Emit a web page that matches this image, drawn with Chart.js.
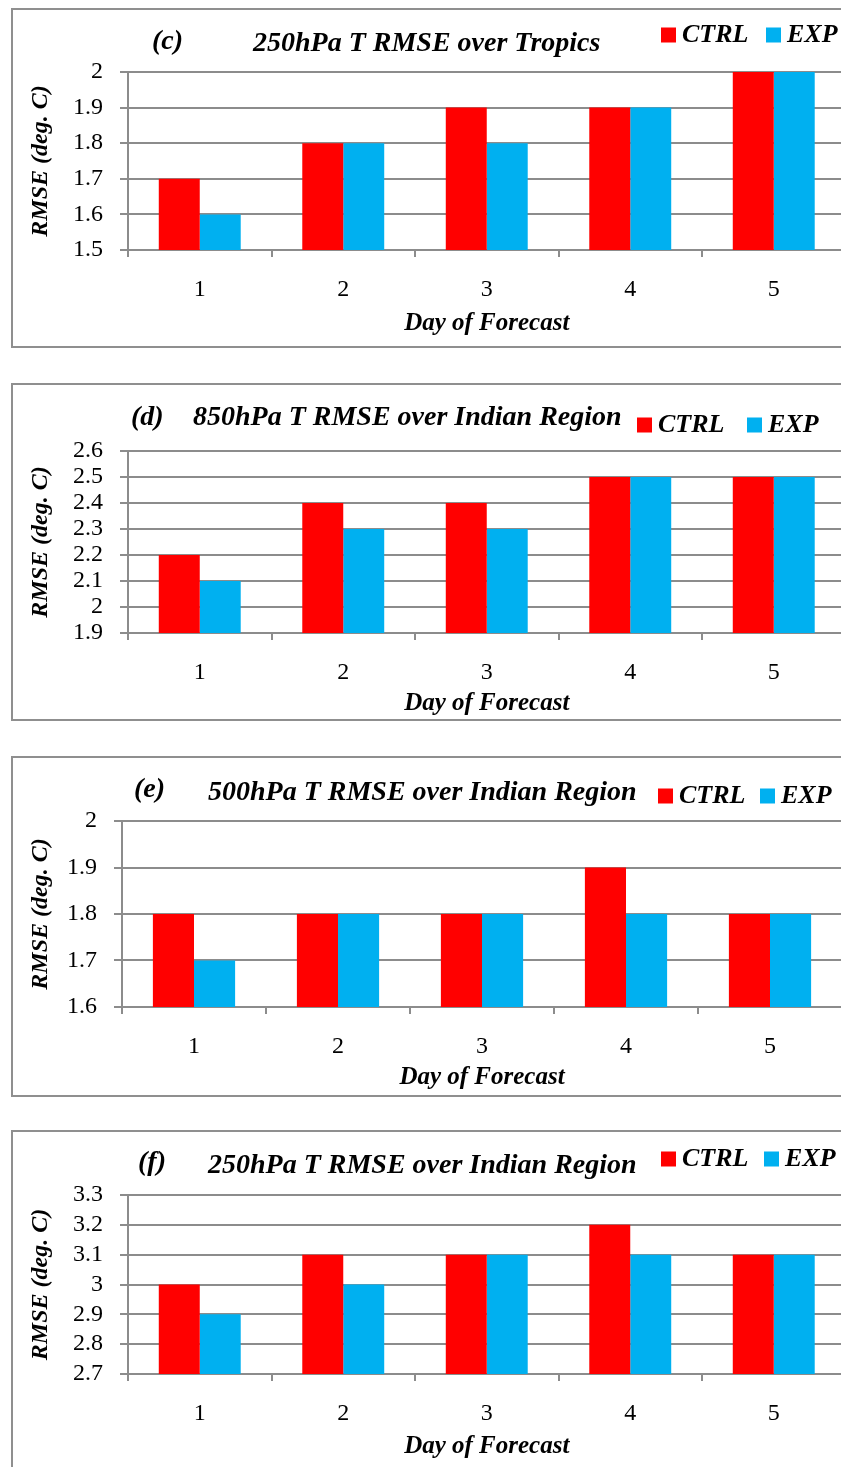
<!DOCTYPE html>
<html>
<head>
<meta charset="utf-8">
<title>Temperature RMSE by forecast day</title>
<script src="https://cdn.jsdelivr.net/npm/chart.js@4.4.1/dist/chart.umd.min.js"></script>
<style>
  html, body { margin: 0; padding: 0; background: #fff; width: 841px; height: 1467px; overflow: hidden; position: relative; }
  .box { position: absolute; left: 11px; width: 900px; border: 2px solid #8f8f8f; box-sizing: border-box; }
  canvas.panel { position: absolute; left: 0; }
</style>
</head>
<body>
<script>
// Forecast days (x categories) and the two experiments
const days = ['1', '2', '3', '4', '5'];
const seriesNames = ['CTRL', 'EXP'];
const seriesColors = ['#FF0000', '#00B0F0'];

// (c) 250 hPa temperature RMSE over the Tropics
const ctrlTropics250 = [1.7, 1.8, 1.9, 1.9, 2.0];
const expTropics250  = [1.6, 1.8, 1.8, 1.9, 2.0];
const axisTropics250 = [1.5, 2.0];

// (d) 850 hPa temperature RMSE over the Indian region
const ctrlIndian850 = [2.2, 2.4, 2.4, 2.5, 2.5];
const expIndian850  = [2.1, 2.3, 2.3, 2.5, 2.5];
const axisIndian850 = [1.9, 2.6];

// (e) 500 hPa temperature RMSE over the Indian region
const ctrlIndian500 = [1.8, 1.8, 1.8, 1.9, 1.8];
const expIndian500  = [1.7, 1.8, 1.8, 1.8, 1.8];
const axisIndian500 = [1.6, 2.0];

// (f) 250 hPa temperature RMSE over the Indian region
const ctrlIndian250 = [3.0, 3.1, 3.1, 3.2, 3.1];
const expIndian250  = [2.9, 3.0, 3.1, 3.1, 3.1];
const axisIndian250 = [2.7, 3.3];

const tickStep = 0.1;
const xAxisTitle = 'Day of Forecast';
const yAxisTitle = 'RMSE (deg. C)';

// Page placement of each panel (page pixels)
const panels = [
  { tag: '(c)', title: '250hPa T RMSE over Tropics', ctrl: ctrlTropics250, exp: expTropics250, axis: axisTropics250,
    boxTop: 8, boxH: 340, plotTop: 72, plotBottom: 250, plotLeft: 128, plotRight: 845.5,
    tagX: 152, tagY: 42, titleX: 253, titleY: 44, legX: [661, 766], legY: 35, xTitleY: 324 },
  { tag: '(d)', title: '850hPa T RMSE over Indian Region', ctrl: ctrlIndian850, exp: expIndian850, axis: axisIndian850,
    boxTop: 383, boxH: 338, plotTop: 451, plotBottom: 633, plotLeft: 128, plotRight: 845.5,
    tagX: 131, tagY: 418, titleX: 193, titleY: 418, legX: [637, 747], legY: 425, xTitleY: 704 },
  { tag: '(e)', title: '500hPa T RMSE over Indian Region', ctrl: ctrlIndian500, exp: expIndian500, axis: axisIndian500,
    boxTop: 756, boxH: 341, plotTop: 821, plotBottom: 1007, plotLeft: 122, plotRight: 842,
    tagX: 134, tagY: 790, titleX: 208, titleY: 793, legX: [658, 760], legY: 796, xTitleY: 1078 },
  { tag: '(f)', title: '250hPa T RMSE over Indian Region', ctrl: ctrlIndian250, exp: expIndian250, axis: axisIndian250,
    boxTop: 1130, boxH: 360, plotTop: 1195, plotBottom: 1374, plotLeft: 128, plotRight: 845.5,
    tagX: 138, tagY: 1163, titleX: 208, titleY: 1166, legX: [661, 764], legY: 1159, xTitleY: 1447 }
];

const CANVAS_W = 900;
const SERIF = '"Liberation Serif", "Times New Roman", serif';
const GRID = '#8c8c8c';

// Panel heading: tag, title and the series key, drawn from the chart's datasets
const headerPlugin = {
  id: 'panelHeader',
  afterDraw(chart, args, opts) {
    const ctx = chart.ctx;
    ctx.save();
    ctx.textBaseline = 'middle';
    ctx.textAlign = 'left';
    ctx.fillStyle = '#000';
    ctx.font = 'italic bold 28px ' + SERIF;
    ctx.fillText(opts.tag, opts.tagX, opts.tagY);
    ctx.fillText(opts.title, opts.titleX, opts.titleY);
    ctx.font = 'italic bold 26px ' + SERIF;
    chart.data.datasets.forEach((ds, i) => {
      const x = opts.legX[i];
      ctx.fillStyle = ds.backgroundColor;
      ctx.fillRect(x, opts.legY - 7.5, 15, 15);
      ctx.fillStyle = '#000';
      ctx.fillText(ds.label, x + 21, opts.legY);
    });
    ctx.restore();
  }
};

panels.forEach(p => {
  const box = document.createElement('div');
  box.className = 'box';
  box.style.top = p.boxTop + 'px';
  box.style.height = p.boxH + 'px';
  document.body.appendChild(box);

  const canvas = document.createElement('canvas');
  canvas.className = 'panel';
  canvas.width = CANVAS_W;
  canvas.height = p.boxH;
  canvas.style.top = p.boxTop + 'px';
  canvas.style.width = CANVAS_W + 'px';
  canvas.style.height = p.boxH + 'px';
  document.body.appendChild(canvas);

  const top = p.boxTop;
  const xAxisH = p.boxH - (p.plotBottom - top);
  const xTitleOffset = p.boxTop + p.boxH - p.xTitleY;   // distance from canvas bottom to title centre
  const xTitleLH = 30;

  new Chart(canvas, {
    type: 'bar',
    data: {
      labels: days,
      datasets: [
        { label: seriesNames[0], data: p.ctrl, backgroundColor: seriesColors[0] },
        { label: seriesNames[1], data: p.exp, backgroundColor: seriesColors[1] }
      ]
    },
    options: {
      responsive: false,
      animation: false,
      devicePixelRatio: 1,
      layout: { padding: { top: p.plotTop - top, left: 0, right: CANVAS_W - p.plotRight, bottom: 0 } },
      datasets: { bar: { categoryPercentage: 0.571, barPercentage: 1.0, borderWidth: 0 } },
      plugins: {
        legend: { display: false },
        title: { display: false },
        tooltip: { enabled: false },
        panelHeader: {
          tag: p.tag, title: p.title,
          tagX: p.tagX, tagY: p.tagY - top,
          titleX: p.titleX, titleY: p.titleY - top,
          legX: p.legX, legY: p.legY - top
        }
      },
      scales: {
        x: {
          afterFit: s => { s.height = xAxisH; },
          grid: { offset: true, drawOnChartArea: false, drawTicks: true, tickLength: 7, color: GRID, lineWidth: 2 },
          border: { display: true, color: GRID, width: 2 },
          ticks: { color: '#000', padding: 18, font: { family: SERIF, size: 24 } },
          title: {
            display: true, text: xAxisTitle, color: '#000',
            font: { family: SERIF, size: 25, style: 'italic', weight: 'bold', lineHeight: xTitleLH / 25 },
            padding: { top: 0, bottom: xTitleOffset - xTitleLH / 2 }
          }
        },
        y: {
          min: p.axis[0], max: p.axis[1],
          afterFit: s => { s.width = p.plotLeft; },
          grid: { color: GRID, lineWidth: 2, drawTicks: true, tickLength: 8 },
          border: { display: true, color: GRID, width: 2 },
          ticks: {
            stepSize: tickStep, color: '#000', padding: 17, autoSkip: false,
            font: { family: SERIF, size: 24, lineHeight: 1 },
            callback: v => String(Number(v.toFixed(1)))
          },
          title: {
            display: true, text: yAxisTitle, color: '#000',
            font: { family: SERIF, size: 24, style: 'italic', weight: 'bold', lineHeight: 1.2 },
            padding: { top: 26, bottom: 0 }
          }
        }
      }
    },
    plugins: [headerPlugin]
  });
});
</script>
</body>
</html>
